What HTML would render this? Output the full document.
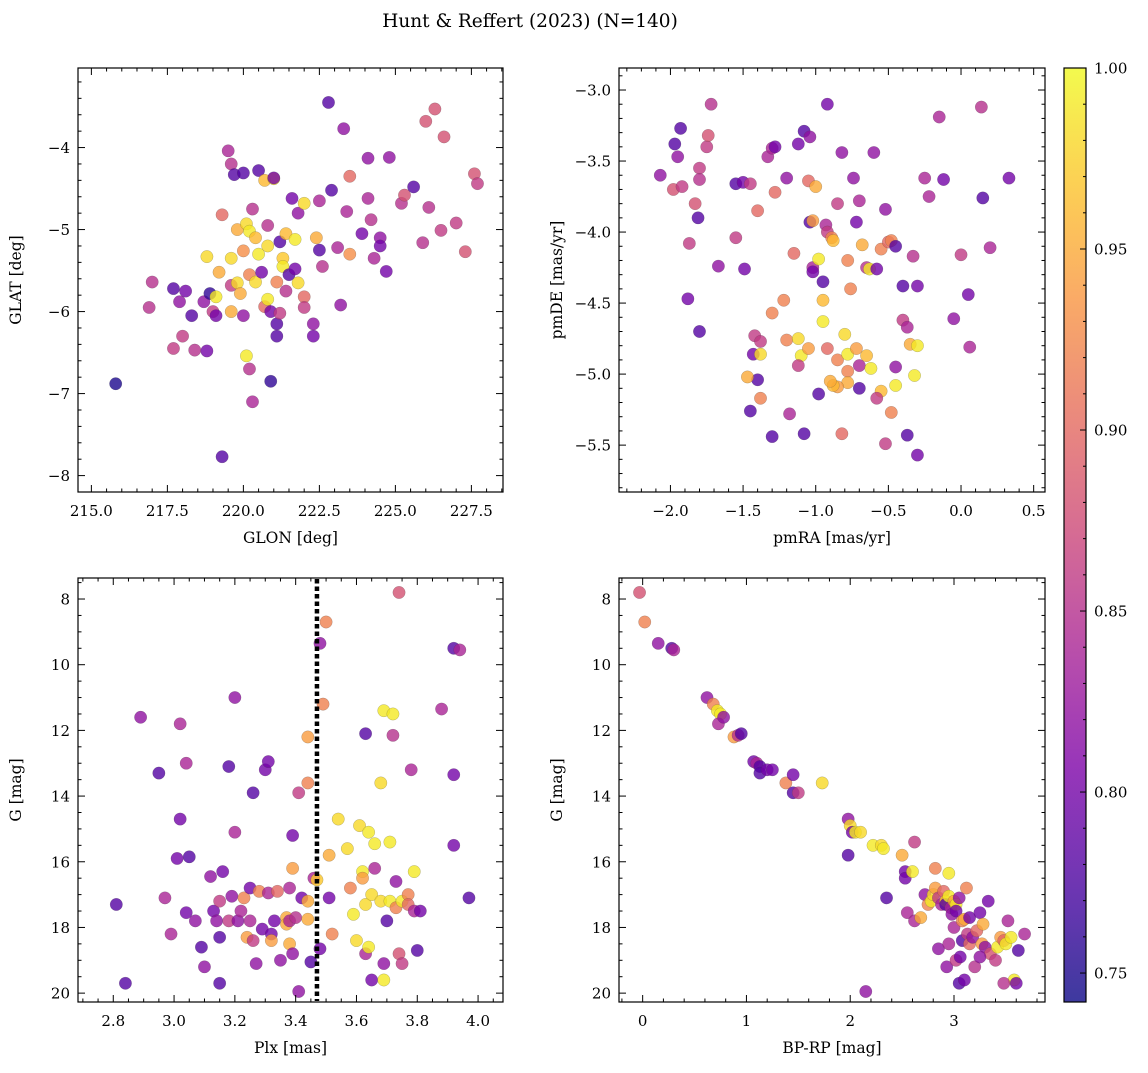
<!DOCTYPE html>
<html><head><meta charset="utf-8"><style>
body{margin:0;background:#fff;}
svg text{font-family:"DejaVu Serif","Liberation Serif",serif;fill:#000;}
</style></head><body>
<svg id="fig" width="1148" height="1068" xmlns="http://www.w3.org/2000/svg">
<defs><linearGradient id="cg" x1="0" y1="1" x2="0" y2="0"></linearGradient></defs>
<text x="530" y="27" font-size="18.5" text-anchor="middle">Hunt &amp; Reffert (2023) (N=140)</text>
</svg>
<script>
// Panel 1: GLON vs GLAT
const p1x=[215.8,217.0,216.9,217.7,217.7,217.9,218.1,218.0,218.3,218.4,218.7,218.8,218.8,218.9,219.0,219.1,219.1,219.2,219.3,219.3,219.5,219.6,219.6,219.6,219.7,219.6,219.8,219.8,219.9,220.0,220.0,220.0,220.1,220.1,220.2,220.2,220.2,220.3,220.3,220.4,220.4,220.5,220.5,220.6,220.7,220.7,220.8,220.8,220.8,220.9,220.9,221.0,221.0,221.1,221.1,221.1,221.2,221.2,221.3,221.3,221.4,221.4,221.5,221.6,221.7,221.7,221.8,221.8,222.0,222.0,222.0,222.3,222.3,222.4,222.5,222.6,222.5,222.8,222.9,223.1,223.2,223.3,223.5,223.4,223.5,223.9,224.1,224.1,224.2,224.3,224.5,224.5,224.7,224.8,225.2,225.3,225.6,225.9,226.0,226.1,226.3,226.5,226.6,227.0,227.3,227.6,227.7];
const p1y=[-6.88,-5.64,-5.95,-5.72,-6.45,-5.88,-5.75,-6.30,-6.05,-6.47,-5.88,-6.48,-5.33,-5.78,-6.00,-5.82,-6.05,-5.52,-4.82,-7.77,-4.04,-4.20,-5.35,-6.00,-4.33,-5.68,-5.00,-5.65,-5.78,-5.26,-6.05,-4.31,-4.93,-6.54,-5.02,-5.55,-6.70,-4.75,-7.10,-5.64,-5.10,-5.30,-4.28,-5.52,-5.94,-4.40,-4.95,-5.20,-5.85,-6.85,-6.0,-4.38,-4.37,-5.64,-6.15,-6.30,-5.15,-6.02,-5.35,-5.45,-5.75,-5.05,-5.55,-4.62,-5.48,-5.12,-5.65,-4.80,-4.68,-5.82,-5.95,-6.15,-6.30,-5.10,-4.65,-5.45,-5.25,-3.45,-4.52,-5.22,-5.92,-3.77,-4.35,-4.78,-5.30,-5.05,-4.13,-4.62,-4.88,-5.35,-5.10,-5.20,-5.51,-4.12,-4.68,-4.58,-4.48,-5.16,-3.68,-4.73,-3.53,-5.01,-3.87,-4.92,-5.27,-4.32,-4.44];
const p1c=[0.75,0.85,0.85,0.78,0.86,0.82,0.80,0.86,0.78,0.85,0.82,0.80,0.98,0.76,0.86,0.99,0.80,0.95,0.90,0.78,0.84,0.85,0.98,0.95,0.78,0.86,0.95,0.98,0.95,0.93,0.82,0.78,0.98,0.99,0.99,0.92,0.85,0.85,0.84,0.98,0.96,0.99,0.78,0.80,0.90,0.96,0.85,0.98,0.99,0.76,0.8,0.98,0.80,0.92,0.78,0.78,0.78,0.86,0.97,0.99,0.85,0.96,0.78,0.80,0.80,0.99,0.98,0.82,0.98,0.90,0.86,0.82,0.80,0.95,0.84,0.85,0.78,0.78,0.78,0.84,0.82,0.82,0.90,0.84,0.93,0.80,0.82,0.84,0.85,0.84,0.82,0.80,0.80,0.82,0.85,0.88,0.78,0.85,0.88,0.85,0.88,0.86,0.88,0.86,0.88,0.88,0.86];
// Panel 2: pmRA vs pmDE
const p2x=[-2.07,-1.97,-1.95,-1.93,-1.98,-1.92,-1.80,-1.75,-1.74,-1.72,-1.80,-1.83,-1.87,-1.88,-1.81,-1.80,-1.67,-1.55,-1.49,-1.43,-1.40,-1.55,-1.50,-1.45,-1.40,-1.33,-1.30,-1.28,-1.42,-1.38,-1.28,-1.20,-1.15,-1.12,-1.08,-1.04,-1.05,-1.04,-1.02,-1.00,-1.02,-0.98,-0.95,-0.93,-0.92,-0.92,-0.89,-0.88,-0.85,-0.82,-0.78,-0.76,-0.74,-0.72,-0.70,-0.68,-0.65,-0.63,-0.60,-0.58,-0.55,-0.52,-0.50,-0.48,-0.45,-0.40,-0.40,-0.37,-0.35,-0.33,-0.30,-0.25,-0.22,-0.15,-0.12,-0.05,0.00,0.05,0.06,0.15,0.14,0.20,0.33,-1.30,-1.22,-1.20,-1.12,-1.10,-1.12,-1.05,-1.02,-0.95,-0.95,-0.92,-0.85,-0.80,-0.78,-0.72,-0.70,-0.65,-0.62,-0.55,-0.58,-0.45,-0.32,-0.30,-0.48,-0.52,-0.37,-0.30,-0.45,-0.78,-0.78,-0.82,-0.85,-0.88,-0.90,-0.98,-1.08,-1.18,-1.30,-1.38,-1.45,-1.47,-0.70,-1.38];
const p2y=[-3.60,-3.38,-3.47,-3.27,-3.70,-3.68,-3.55,-3.40,-3.32,-3.10,-3.63,-3.80,-4.08,-4.47,-3.90,-4.70,-4.24,-4.04,-4.26,-4.86,-5.04,-3.66,-3.65,-3.66,-3.85,-3.47,-3.41,-3.40,-4.73,-4.77,-3.72,-3.62,-4.15,-3.38,-3.29,-3.33,-3.64,-3.93,-3.92,-3.68,-4.25,-4.19,-4.35,-3.95,-3.10,-4.00,-4.04,-4.06,-3.80,-3.44,-4.20,-4.40,-3.62,-3.93,-3.78,-4.09,-4.25,-4.26,-3.44,-4.26,-4.12,-3.84,-4.07,-4.06,-4.10,-4.38,-4.62,-4.67,-4.79,-4.17,-4.38,-3.62,-3.75,-3.19,-3.63,-4.61,-4.16,-4.44,-4.81,-3.76,-3.12,-4.11,-3.62,-4.57,-4.48,-4.76,-4.75,-4.87,-4.94,-4.82,-4.28,-4.48,-4.63,-4.82,-4.90,-4.72,-4.86,-4.82,-4.94,-4.87,-4.96,-5.12,-5.17,-5.08,-5.01,-4.80,-5.27,-5.49,-5.43,-5.57,-4.95,-4.98,-5.06,-5.42,-5.09,-5.08,-5.05,-5.14,-5.42,-5.28,-5.44,-5.17,-5.26,-5.02,-5.10,-4.86];
const p2c=[0.82,0.78,0.82,0.78,0.88,0.86,0.86,0.86,0.88,0.85,0.85,0.88,0.86,0.80,0.78,0.78,0.82,0.86,0.80,0.80,0.78,0.78,0.80,0.86,0.90,0.84,0.84,0.80,0.86,0.86,0.90,0.82,0.90,0.80,0.78,0.82,0.90,0.78,0.94,0.95,0.84,0.99,0.78,0.84,0.80,0.86,0.92,0.96,0.86,0.82,0.92,0.92,0.82,0.80,0.84,0.95,0.85,0.99,0.82,0.80,0.92,0.82,0.90,0.92,0.78,0.78,0.86,0.84,0.95,0.85,0.80,0.84,0.84,0.84,0.80,0.82,0.86,0.80,0.84,0.78,0.85,0.84,0.80,0.92,0.92,0.92,0.98,0.99,0.86,0.94,0.80,0.96,0.99,0.90,0.92,0.98,0.99,0.94,0.84,0.96,0.99,0.96,0.86,0.99,0.99,0.99,0.92,0.86,0.78,0.80,0.82,0.92,0.95,0.90,0.94,0.96,0.95,0.78,0.78,0.84,0.78,0.92,0.78,0.95,0.78,0.98];
// Panel 3: Plx vs G
const p3x=[2.81,2.84,2.89,2.95,2.97,2.99,3.01,3.02,3.02,3.04,3.04,3.05,3.07,3.09,3.10,3.12,3.13,3.14,3.15,3.15,3.15,3.16,3.18,3.18,3.19,3.20,3.20,3.21,3.22,3.23,3.24,3.25,3.25,3.26,3.26,3.27,3.28,3.29,3.30,3.31,3.31,3.32,3.32,3.33,3.34,3.35,3.37,3.37,3.38,3.38,3.38,3.39,3.39,3.39,3.40,3.41,3.41,3.42,3.44,3.44,3.44,3.44,3.45,3.46,3.47,3.48,3.48,3.49,3.50,3.51,3.51,3.52,3.54,3.57,3.58,3.59,3.60,3.61,3.62,3.62,3.63,3.63,3.63,3.64,3.64,3.65,3.65,3.66,3.66,3.68,3.68,3.69,3.69,3.69,3.70,3.71,3.71,3.72,3.72,3.73,3.73,3.74,3.74,3.75,3.75,3.77,3.77,3.78,3.79,3.79,3.80,3.81,3.88,3.92,3.92,3.92,3.94,3.97];
const p3y=[17.3,19.7,11.6,13.3,17.1,18.2,15.9,14.7,11.8,17.55,13.0,15.85,17.8,18.6,19.2,16.45,17.5,17.8,17.2,18.3,19.7,16.3,13.1,17.8,17.05,15.1,11.0,17.8,17.5,17.1,18.3,16.8,17.8,13.9,18.4,19.1,16.9,18.05,13.2,12.95,16.95,18.2,18.4,17.8,16.9,19.0,17.7,17.9,17.8,16.8,18.5,18.8,15.2,16.2,17.7,19.95,13.9,17.1,17.2,17.75,12.2,13.6,19.05,16.5,16.55,18.65,9.35,11.2,8.7,15.8,17.1,18.2,14.7,15.6,16.8,17.6,18.4,14.9,16.3,16.5,17.3,18.8,12.1,15.1,18.6,19.6,17.0,16.2,15.45,13.6,17.2,11.4,19.6,19.1,17.8,17.2,15.4,11.5,12.15,16.6,17.4,7.8,18.8,17.2,19.1,17.0,17.3,13.2,16.3,17.5,18.7,17.5,11.35,13.35,15.5,9.5,9.55,17.1];
const p3c=[0.78,0.78,0.82,0.78,0.84,0.84,0.80,0.80,0.84,0.80,0.84,0.78,0.82,0.78,0.82,0.82,0.80,0.82,0.86,0.78,0.78,0.80,0.78,0.86,0.82,0.84,0.82,0.82,0.84,0.92,0.94,0.80,0.84,0.78,0.86,0.82,0.92,0.80,0.80,0.80,0.84,0.80,0.94,0.80,0.90,0.82,0.95,0.95,0.84,0.84,0.95,0.82,0.80,0.94,0.85,0.82,0.86,0.80,0.95,0.95,0.94,0.92,0.78,0.84,0.97,0.80,0.82,0.92,0.92,0.95,0.80,0.92,0.98,0.98,0.92,0.99,0.98,0.98,0.99,0.94,0.98,0.84,0.78,0.99,0.99,0.80,0.98,0.84,0.99,0.98,0.98,0.99,0.99,0.82,0.78,0.99,0.99,0.99,0.85,0.82,0.92,0.88,0.88,0.99,0.86,0.92,0.90,0.84,0.99,0.84,0.78,0.80,0.84,0.80,0.80,0.78,0.84,0.78];
const plxLine=3.47;
// Panel 4: BP-RP vs G
const p4x=[-0.03,0.02,0.15,0.28,0.30,0.62,0.68,0.72,0.75,0.73,0.78,0.88,0.92,0.95,1.07,1.10,1.13,1.13,1.20,1.25,1.38,1.45,1.45,1.50,1.73,1.98,2.00,2.02,2.05,1.98,2.10,2.22,2.30,2.32,2.35,2.50,2.53,2.53,2.62,2.60,2.55,2.62,2.68,2.72,2.75,2.78,2.80,2.82,2.82,2.85,2.85,2.88,2.90,2.92,2.92,2.93,2.95,2.95,2.97,2.98,3.00,3.00,3.02,3.02,3.02,3.05,3.05,3.06,3.08,3.08,3.10,3.10,3.12,3.13,3.15,3.15,3.18,3.20,3.22,3.25,3.27,3.28,3.30,3.33,3.35,3.40,3.42,3.45,3.48,3.50,3.52,3.55,3.58,3.60,3.62,3.68,2.15,3.48,2.95,3.25];
const p4y=[7.8,8.7,9.35,9.5,9.55,11.0,11.2,11.4,11.5,11.8,11.6,12.2,12.15,12.1,12.95,13.0,13.1,13.3,13.2,13.2,13.6,13.35,13.9,13.9,13.6,14.7,14.9,15.1,15.1,15.8,15.1,15.5,15.5,15.6,17.1,15.8,16.3,16.5,15.4,16.3,17.55,17.8,17.7,17.0,17.3,17.2,17.0,16.8,16.2,17.1,18.65,17.3,16.9,17.2,17.3,19.2,16.35,17.05,17.4,17.6,17.2,18.0,17.3,17.5,19.0,19.7,17.1,18.9,17.8,18.4,19.6,17.75,16.8,18.2,18.5,17.7,18.3,19.2,18.1,17.55,18.5,17.9,18.6,17.2,18.8,19.0,18.6,18.3,18.4,18.5,17.8,18.3,19.6,19.7,18.7,18.2,19.95,19.7,18.5,18.9];
const p4c=[0.88,0.92,0.82,0.78,0.84,0.82,0.92,0.99,0.99,0.84,0.82,0.94,0.85,0.78,0.80,0.84,0.78,0.78,0.80,0.80,0.92,0.80,0.78,0.86,0.98,0.82,0.98,0.80,0.99,0.78,0.98,0.99,0.98,0.99,0.78,0.95,0.80,0.80,0.86,0.99,0.84,0.84,0.95,0.82,0.92,0.99,0.98,0.94,0.92,0.86,0.82,0.84,0.90,0.97,0.78,0.82,0.99,0.99,0.84,0.82,0.95,0.84,0.99,0.80,0.86,0.78,0.82,0.80,0.92,0.78,0.80,0.95,0.92,0.86,0.90,0.80,0.82,0.85,0.90,0.80,0.94,0.95,0.82,0.80,0.88,0.86,0.99,0.94,0.90,0.99,0.84,0.99,0.99,0.80,0.78,0.84,0.82,0.85,0.84,0.82];
const cbTicks=[0.75,0.80,0.85,0.90,0.95,1.00];

const NS="http://www.w3.org/2000/svg";
const svg=document.getElementById('fig');
function mk(tag,attrs,parent){const e=document.createElementNS(NS,tag);for(const k in attrs)e.setAttribute(k,attrs[k]);(parent||svg).appendChild(e);return e;}
const stops=[[0,[13,8,135]],[0.125,[75,3,161]],[0.25,[125,3,168]],[0.375,[168,34,150]],[0.5,[203,70,121]],[0.625,[229,107,93]],[0.75,[248,148,65]],[0.875,[253,195,40]],[1,[240,249,33]]];
const CMIN=0.742,CMAX=1.0;
function cmap(v){let t=(v-CMIN)/(CMAX-CMIN);t=Math.max(0,Math.min(1,t));
 for(let i=0;i<stops.length-1;i++){const a=stops[i],b=stops[i+1];if(t<=b[0]){const f=(t-a[0])/(b[0]-a[0]);return 'rgb('+a[1].map((c,j)=>Math.round(c+(b[1][j]-c)*f)).join(',')+')';}}
 return 'rgb(240,249,33)';}
function fmt(v,d){const s=Math.abs(v).toFixed(d);return (v<-1e-9?'\u2212':'')+s;}

function panel(name,L,T,W,H,xr,yr,xMaj,xMin,yMaj,yMin,xd,yd,xlab,ylab,xs,ys,cs,invY){
 const g=mk('g',{});
 
 
 const X=v=>L+(v-xr[0])/(xr[1]-xr[0])*W;
 const Y=v=>invY? T+(v-yr[0])/(yr[1]-yr[0])*H : T+H-(v-yr[0])/(yr[1]-yr[0])*H;
 for(let i=0;i<xs.length;i++){
  const c=mk('circle',{cx:X(xs[i]),cy:Y(ys[i]),r:6.2,fill:cmap(cs[i]),'fill-opacity':0.8,stroke:'rgba(60,60,60,0.35)','stroke-width':0.5},g);
  
  
 }
 const ax=mk('g',{},g);
 
 
 const eps=1e-6;
 for(let v=Math.ceil(xr[0]/xMin-eps)*xMin;v<=xr[1]+eps;v+=xMin){
  const x=X(v);const maj=Math.abs(v/xMaj-Math.round(v/xMaj))<1e-4;const len=maj?7:3.5;
  mk('line',{x1:x,x2:x,y1:T+H,y2:T+H-len,stroke:'#000','stroke-width':1},ax);
  mk('line',{x1:x,x2:x,y1:T,y2:T+len,stroke:'#000','stroke-width':1},ax);
  if(maj){const t=mk('text',{x:x,y:T+H+24,'font-size':15,'text-anchor':'middle'},ax);t.textContent=fmt(v,xd);
   }
 }
 const y0=Math.min(yr[0],yr[1]),y1=Math.max(yr[0],yr[1]);
 for(let v=Math.ceil(y0/yMin-eps)*yMin;v<=y1+eps;v+=yMin){
  const y=Y(v);const maj=Math.abs(v/yMaj-Math.round(v/yMaj))<1e-4;const len=maj?7:3.5;
  mk('line',{x1:L,x2:L+len,y1:y,y2:y,stroke:'#000','stroke-width':1},ax);
  mk('line',{x1:L+W,x2:L+W-len,y1:y,y2:y,stroke:'#000','stroke-width':1},ax);
  if(maj){const t=mk('text',{x:L-8,y:y+5.5,'font-size':15,'text-anchor':'end'},ax);t.textContent=fmt(v,yd);
   }
 }
 mk('rect',{x:L,y:T,width:W,height:H,fill:'none',stroke:'#000','stroke-width':1.2},ax);
 const xl=mk('text',{x:L+W/2,y:T+H+51,'font-size':15.5,'text-anchor':'middle'},g);xl.textContent=xlab;
 
 const yl=mk('text',{x:0,y:0,'font-size':15.5,'text-anchor':'middle',transform:'translate('+(L-57)+','+(T+H/2)+') rotate(-90)'},g);yl.textContent=ylab;
 
 return {X,Y,g};
}
panel('glon-glat-panel',78,68,425,424,[214.56,228.54],[-8.2,-3.03],2.5,0.5,1,0.2,1,0,'GLON [deg]','GLAT [deg]',p1x,p1y,p1c,false);
panel('pmra-pmde-panel',619,68,426,424,[-2.354,0.578],[-5.83,-2.845],0.5,0.1,0.5,0.1,1,1,'pmRA [mas/yr]','pmDE [mas/yr]',p2x,p2y,p2c,false);
const P3=panel('plx-g-panel',78,578,425,424,[2.684,4.082],[7.36,20.27],0.2,0.05,2,0.5,1,0,'Plx [mas]','G [mag]',p3x,p3y,p3c,true);
const vl=mk('line',{x1:P3.X(plxLine),x2:P3.X(plxLine),y1:579,y2:1001,stroke:'#000','stroke-width':4.5,'stroke-dasharray':'4.5 3'},P3.g);


panel('color-magnitude-panel',619,578,426,424,[-0.228,3.877],[7.36,20.27],1,0.2,2,0.5,0,0,'BP-RP [mag]','G [mag]',p4x,p4y,p4c,true);

// colorbar
const cb=mk('g',{});


const grad=document.getElementById('cg');
for(let i=0;i<=20;i++){const t=i/20;mk('stop',{offset:t,'stop-color':cmap(CMIN+t*(CMAX-CMIN)),'stop-opacity':0.8},grad);}
const CBL=1064,CBT=68,CBW=22,CBH=934;
const CY=v=>CBT+CBH-(v-CMIN)/(CMAX-CMIN)*CBH;
mk('rect',{x:CBL,y:CBT,width:CBW,height:CBH,fill:'url(#cg)'},cb);
for(let v=0.75;v<=1.0001;v+=0.01){const y=CY(v);const maj=Math.abs(v*20-Math.round(v*20))<1e-4;
 mk('line',{x1:CBL+CBW,x2:CBL+CBW-(maj?6:3),y1:y,y2:y,stroke:'#000','stroke-width':1},cb);}
cbTicks.forEach(v=>{const t=mk('text',{x:CBL+CBW+8,y:CY(v)+5.5,'font-size':15},cb);t.textContent=v.toFixed(2);
 });
mk('rect',{x:CBL,y:CBT,width:CBW,height:CBH,fill:'none',stroke:'#000','stroke-width':1.2},cb);
</script>
</body></html>
